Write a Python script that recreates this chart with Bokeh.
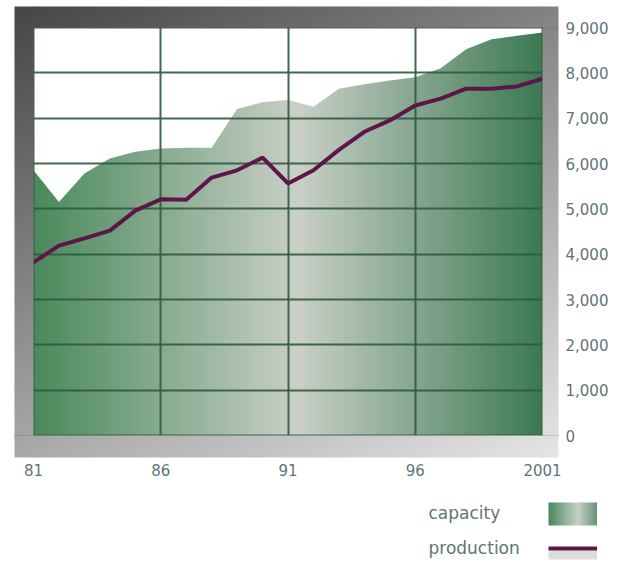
import numpy as np
from bokeh.plotting import figure
from bokeh.models import Range1d, FixedTicker, NumeralTickFormatter, ColumnDataSource
from bokeh.layouts import column
from bokeh.embed import file_html
from bokeh.resources import INLINE
from bokeh.core.properties import value

# ---------------- data ----------------
years = list(range(1981, 2002))
capacity = [5850, 5150, 5780, 6110, 6260, 6330, 6350, 6350, 7200, 7350, 7400,
            7250, 7650, 7750, 7830, 7900, 8100, 8520, 8740, 8820, 8890]
production = [3820, 4190, 4350, 4520, 4960, 5210, 5200, 5690, 5850, 6130, 5560,
              5850, 6300, 6700, 6950, 7280, 7430, 7650, 7650, 7700, 7870]
x_ticks = [1981, 1986, 1991, 1996, 2001]
x_tick_labels = ["81", "86", "91", "96", "2001"]
y_ticks = [0, 1000, 2000, 3000, 4000, 5000, 6000, 7000, 8000, 9000]
series_names = ["capacity", "production"]

# ---------------- helpers ----------------
def ramp(stops, n):
    t = np.linspace(0, 1, n)
    ts = [s[0] for s in stops]
    out = np.zeros((n, 3))
    for c in range(3):
        out[:, c] = np.interp(t, ts, [s[1][c] for s in stops])
    return out

def to_rgba(rgb):
    ny, nx, _ = rgb.shape
    img = np.empty((ny, nx), dtype=np.uint32)
    v = img.view(dtype=np.uint8).reshape((ny, nx, 4))
    v[..., 0:3] = np.clip(rgb, 0, 255).astype(np.uint8)
    v[..., 3] = 255
    return img

green_stops = [(0.0, (74, 138, 92)), (0.52, (202, 208, 200)), (1.0, (60, 122, 84))]

# ---------------- geometry ----------------
FW, FH = 544, 451            # frame (outer bevel) size in px
PL, PR, PT, PB = 19, 16, 21, 22   # bevel widths
pxx = (FW - PL - PR) / (years[-1] - years[0])
pyy = (FH - PT - PB) / 9000.0
x_start = years[0] - PL / pxx
x_end = years[-1] + PR / pxx
y_start = -PB / pyy
y_end = 9000 + PT / pyy

FONT = "DejaVu Sans"
TXT = "#5f7478"
MB_L, MB_T, MB_R, MB_B = 14, 6, 53, 20

p = figure(frame_width=FW, frame_height=FH, x_range=Range1d(x_start, x_end),
           y_range=Range1d(y_start, y_end), y_axis_location="right",
           output_backend="svg", toolbar_location=None,
           min_border_left=MB_L, min_border_top=MB_T, min_border_right=MB_R,
           min_border_bottom=MB_B)
p.outline_line_color = None
p.background_fill_color = "white"
p.border_fill_color = "white"

# gradient under the capacity area
grad = ramp(green_stops, 256).reshape(1, 256, 3)
r_img = p.image_rgba(image=[to_rgba(grad)], x=years[0], y=0,
                     dw=years[-1] - years[0], dh=9000)
r_img.level = "image"

src = ColumnDataSource(dict(year=years, capacity=capacity, production=production,
                            top=[9000] * len(years)))
r_white = p.varea(x="year", y1="capacity", y2="top", source=src, fill_color="white")
r_white.level = "image"

# grid
p.xgrid.ticker = FixedTicker(ticks=x_ticks)
p.ygrid.ticker = FixedTicker(ticks=y_ticks)
p.grid.grid_line_color = "#2f5a3c"
p.grid.grid_line_width = 2
p.grid.grid_line_alpha = 0.9
p.grid.level = "underlay"

# production line
p.line(x="year", y="production", source=src, line_color="#5e1547", line_width=4)

# bevel frame bands
def gray(px, py):
    u = px / FW
    v = py / FH
    return 70 + 160 * (0.38 * u + 0.62 * v)

def band(px0, px1, py0, py1):
    xs = np.arange(px0, px1) + 0.5
    ys = np.arange(py0, py1) + 0.5
    X, Y = np.meshgrid(xs, ys)
    g = gray(X, Y)
    rgb = np.stack([g, g, g], axis=-1)[::-1]   # row 0 at bottom
    return to_rgba(rgb)

bands = [
    (band(0, FW, 0, PT), x_start, 9000, x_end - x_start, y_end - 9000),
    (band(0, FW, FH - PB, FH), x_start, y_start, x_end - x_start, -y_start),
    (band(0, PL, PT, FH - PB), x_start, 0, years[0] - x_start, 9000),
    (band(FW - PR, FW, PT, FH - PB), years[-1], 0, x_end - years[-1], 9000),
]
for img, bx, by, bw, bh in bands:
    rb = p.image_rgba(image=[img], x=bx, y=by, dw=bw, dh=bh)
    rb.level = "annotation"

# axes
p.xaxis.ticker = FixedTicker(ticks=x_ticks)
p.xaxis.major_label_overrides = {t: l for t, l in zip(x_ticks, x_tick_labels)}
p.yaxis.ticker = FixedTicker(ticks=y_ticks)
p.yaxis.formatter = NumeralTickFormatter(format="0,0")
for ax in (p.xaxis[0], p.yaxis[0]):
    ax.axis_line_color = None
    ax.major_tick_line_color = None
    ax.minor_tick_line_color = None
    ax.major_label_text_font = FONT
    ax.major_label_text_font_size = "15px"
    ax.major_label_text_color = TXT
p.xaxis.major_label_standoff = 0
p.yaxis.major_label_standoff = 1

# ---------------- legend (separate strip) ----------------
LX0, LX1 = MB_L, MB_L + FW + MB_R
LH = 90
lg = figure(frame_width=LX1 - LX0, frame_height=LH, x_range=Range1d(LX0, LX1),
            y_range=Range1d(0, LH), x_axis_location=None, y_axis_location=None,
            output_backend="svg", toolbar_location=None,
            min_border_left=0, min_border_right=0, min_border_top=0,
            min_border_bottom=0)
lg.outline_line_color = None
lg.grid.visible = False
lg.background_fill_color = "white"
lg.border_fill_color = "white"

lsrc = ColumnDataSource(dict(x=[428, 428], y=[56, 21], text=series_names))
lg.text(x="x", y="y", text="text", source=lsrc, text_font=value(FONT),
        text_font_size="17px", text_color=TXT, text_align="left",
        text_baseline="middle")
sw = ramp(green_stops, 57).reshape(1, 57, 3)
lg.image_rgba(image=[to_rgba(sw)], x=548, y=43, dw=57, dh=23)
lg.quad(left=[548], right=[605], bottom=[9], top=[18], fill_color="#dcdcdc",
        line_color=None)
lg.line(x=[548, 605], y=[20, 20], line_color="#5e1547", line_width=4)

layout = column(p, lg, spacing=0)
open("out.html", "w").write(file_html(layout, INLINE))
